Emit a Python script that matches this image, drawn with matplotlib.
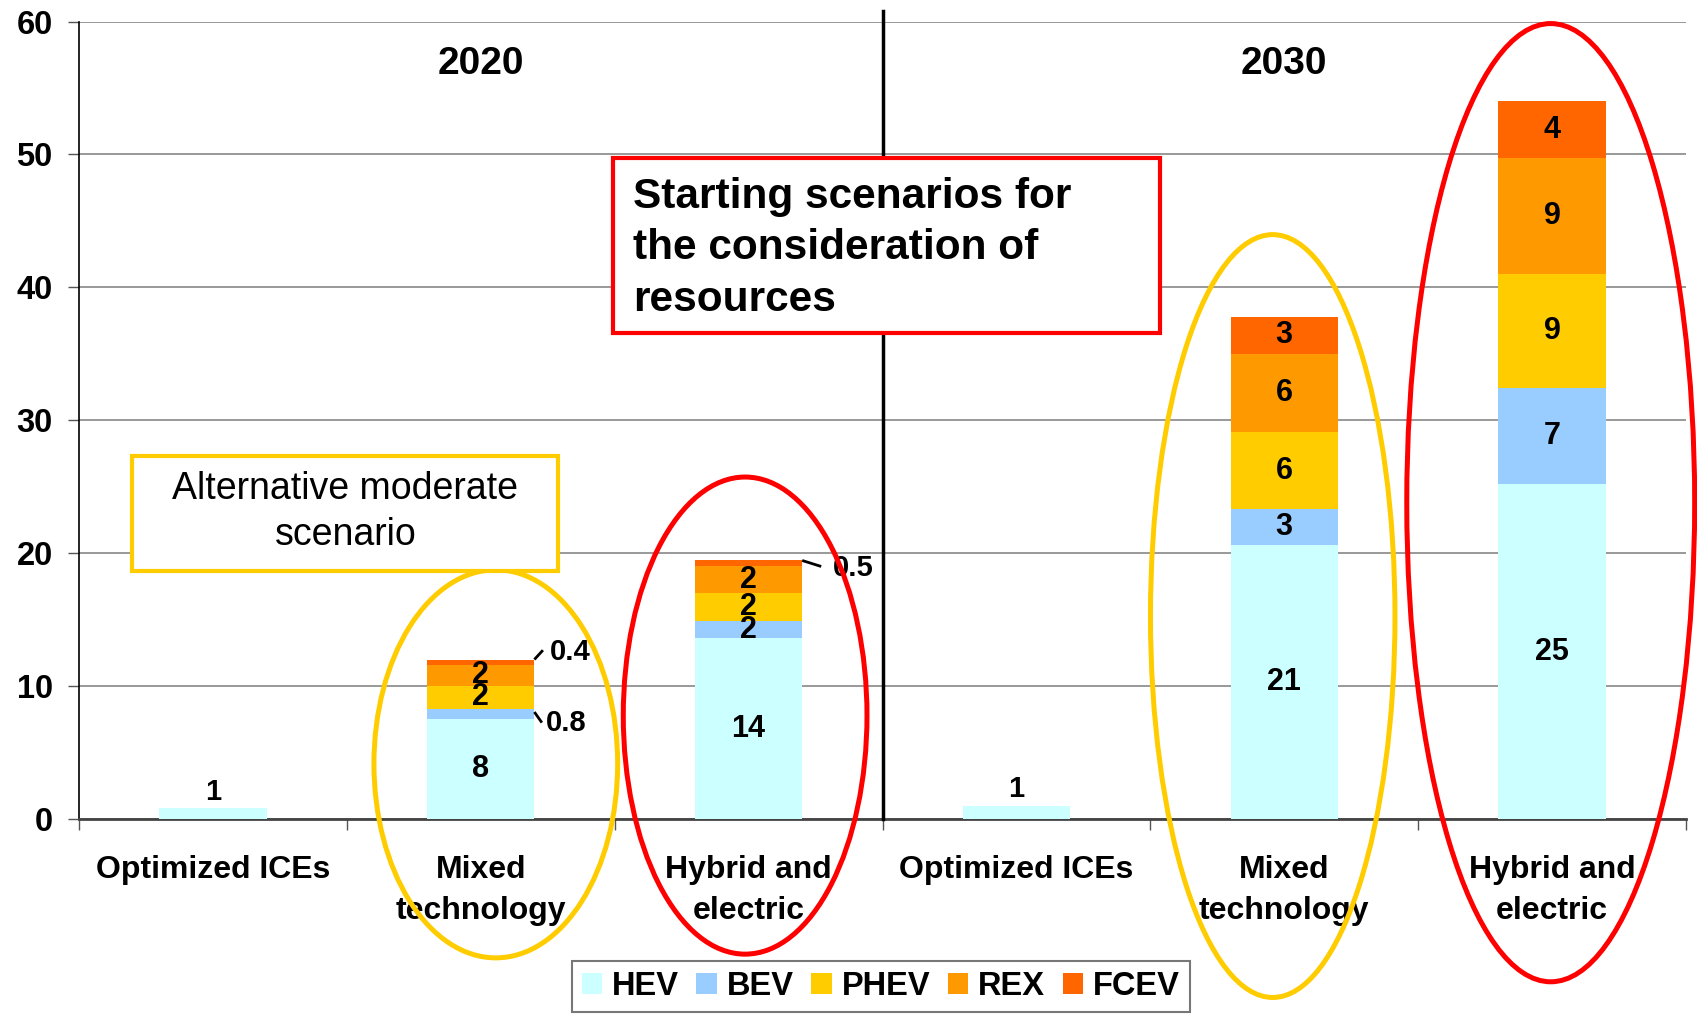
import numpy as np
import matplotlib
matplotlib.use('Agg')
import matplotlib.pyplot as plt
from matplotlib.patches import Ellipse, Rectangle

plt.rcParams['font.family'] = ['Liberation Sans', 'DejaVu Sans']

# Categories (two groups of three scenarios)
categories = ['Optimized ICEs', 'Mixed\ntechnology', 'Hybrid and\nelectric',
              'Optimized ICEs', 'Mixed\ntechnology', 'Hybrid and\nelectric']
years = ['2020', '2030']

# Stacked values
hev = [0.8, 7.5, 13.6, 1.0, 20.6, 25.2]
bev = [0.0, 0.8, 1.3, 0.0, 2.7, 7.2]
phev = [0.0, 1.7, 2.1, 0.0, 5.8, 8.6]
rex = [0.0, 1.6, 2.0, 0.0, 5.9, 8.7]
fcev = [0.0, 0.4, 0.45, 0.0, 2.8, 4.3]

# Data labels shown on the chart
hev_lbl = ['1', '8', '14', '1', '21', '25']
bev_lbl = ['', '0.8', '2', '', '3', '7']
phev_lbl = ['', '2', '2', '', '6', '9']
rex_lbl = ['', '2', '2', '', '6', '9']
fcev_lbl = ['', '0.4', '0.5', '', '3', '4']

series = ['HEV', 'BEV', 'PHEV', 'REX', 'FCEV']
colors = ['#CCFFFF', '#99CCFF', '#FFCC00', '#FF9900', '#FF6600']

# small segments labelled outside the bar: (series, bar) -> leader offsets
# (line start dy from segment top, line dx, line dy, text dx, text dy)
outside = {
    ('FCEV', 1): (0.0, 0.032, 0.7, 0.057, 0.55),
    ('BEV', 1): (-0.25, 0.028, -0.8, 0.044, -1.05),
    ('FCEV', 2): (0.0, 0.071, -0.45, 0.116, -0.6),
}

fig = plt.figure(figsize=(16.97, 10.18), dpi=100)
ax = fig.add_axes([0.0466, 0.1955, 0.9469, 0.7833])

x = np.arange(len(categories))
width = 0.4
values = [hev, bev, phev, rex, fcev]
labels = [hev_lbl, bev_lbl, phev_lbl, rex_lbl, fcev_lbl]
bottom = np.zeros(len(categories))
for vals, lbls, col, name in zip(values, labels, colors, series):
    vals = np.array(vals)
    ax.bar(x, vals, width, bottom=bottom, color=col, label=name, zorder=3)
    for i in range(len(x)):
        if lbls[i] == '':
            continue
        top = bottom[i] + vals[i]
        if (name, i) in outside:
            sy, ldx, ldy, tdx, tdy = outside[(name, i)]
            x0 = x[i] + width / 2
            y0 = top + sy
            ax.plot([x0, x0 + ldx], [y0, y0 + ldy], color='black', linewidth=2,
                    solid_capstyle='butt', zorder=5)
            ax.text(x0 + tdx, top + tdy, lbls[i], ha='left', va='center',
                    fontsize=21, fontweight='bold', zorder=5)
        elif vals[i] < 1.2 and name == 'HEV':
            ax.text(x[i], top + 0.2, lbls[i], ha='center', va='bottom',
                    fontsize=21, fontweight='bold', zorder=5)
        else:
            ax.text(x[i], bottom[i] + vals[i] / 2, lbls[i], ha='center', va='center',
                    fontsize=22, fontweight='bold', zorder=5)
    bottom = bottom + vals

# Axes settings
ax.set_xlim(-0.5, 5.5)
ax.set_ylim(0, 60)
ax.set_yticks(np.arange(0, 61, 10))
ax.set_xticks(x)
ax.set_xticklabels(categories, fontsize=23, fontweight='bold', linespacing=1.48)
ax.set_xticks(np.arange(-0.5, 5.6, 1), minor=True)
ax.tick_params(axis='x', which='major', length=0, pad=26)
ax.tick_params(axis='x', which='minor', length=8, width=1, color='#555555')
ax.tick_params(axis='y', length=8, width=1, color='#555555', pad=11)
for t in ax.get_yticklabels():
    t.set_fontsize(23.5)
    t.set_fontweight('bold')
ax.grid(axis='y', color='#888888', linewidth=1.2, zorder=0)
ax.set_axisbelow(True)
ax.spines['top'].set_visible(False)
ax.spines['right'].set_visible(False)
ax.spines['left'].set_color('black')
ax.spines['left'].set_linewidth(1.2)
ax.spines['bottom'].set_color('#444444')
ax.spines['bottom'].set_linewidth(2)

# Divider between the two years
ax.plot([2.5, 2.5], [0, 60.8], color='black', linewidth=2.5, clip_on=False, zorder=4)
ax.text(1.0, 56.8, years[0], ha='center', va='center', fontsize=28, fontweight='bold')
ax.text(4.0, 56.8, years[1], ha='center', va='center', fontsize=28, fontweight='bold')

# Ellipses highlighting scenarios
ax.add_patch(Ellipse((1.056, 4.15), 0.91, 29.2, fill=False, edgecolor='#FFCC00',
                     linewidth=3.6, clip_on=False, zorder=6))
ax.add_patch(Ellipse((1.987, 7.78), 0.91, 35.9, fill=False, edgecolor='#FF0000',
                     linewidth=3.6, clip_on=False, zorder=6))
ax.add_patch(Ellipse((3.957, 15.27), 0.913, 57.4, fill=False, edgecolor='#FFCC00',
                     linewidth=3.6, clip_on=False, zorder=6))
ax.add_patch(Ellipse((4.995, 23.8), 1.075, 72.1, fill=False, edgecolor='#FF0000',
                     linewidth=3.6, clip_on=False, zorder=6))

# Text boxes
ax.add_patch(Rectangle((1.492, 36.56), 2.044, 13.2, facecolor='white',
                       edgecolor='#FF0000', linewidth=3.0, zorder=7))
ax.text(1.569, 42.95, 'Starting scenarios for\nthe consideration of\nresources',
        ha='left', va='center', fontsize=30.5, fontweight='bold',
        linespacing=1.37, zorder=8)
ax.add_patch(Rectangle((-0.302, 18.65), 1.592, 8.63, facecolor='white',
                       edgecolor='#FFCC00', linewidth=3.0, zorder=7))
ax.text(0.494, 23.08, 'Alternative moderate\nscenario', ha='center', va='center',
        fontsize=27, linespacing=1.36, zorder=8)

# Legend at the bottom
leg = fig.legend(loc='center', bbox_to_anchor=(0.519, 0.031), ncol=5,
                 prop={'size': 23.5, 'weight': 'bold'}, frameon=True, fancybox=False,
                 edgecolor='#555555', handlelength=0.62, handleheight=0.62,
                 handletextpad=0.3, columnspacing=0.55, borderpad=0.3,
                 borderaxespad=0)
leg.get_frame().set_linewidth(1.5)

fig.savefig('out.png', dpi=100)
